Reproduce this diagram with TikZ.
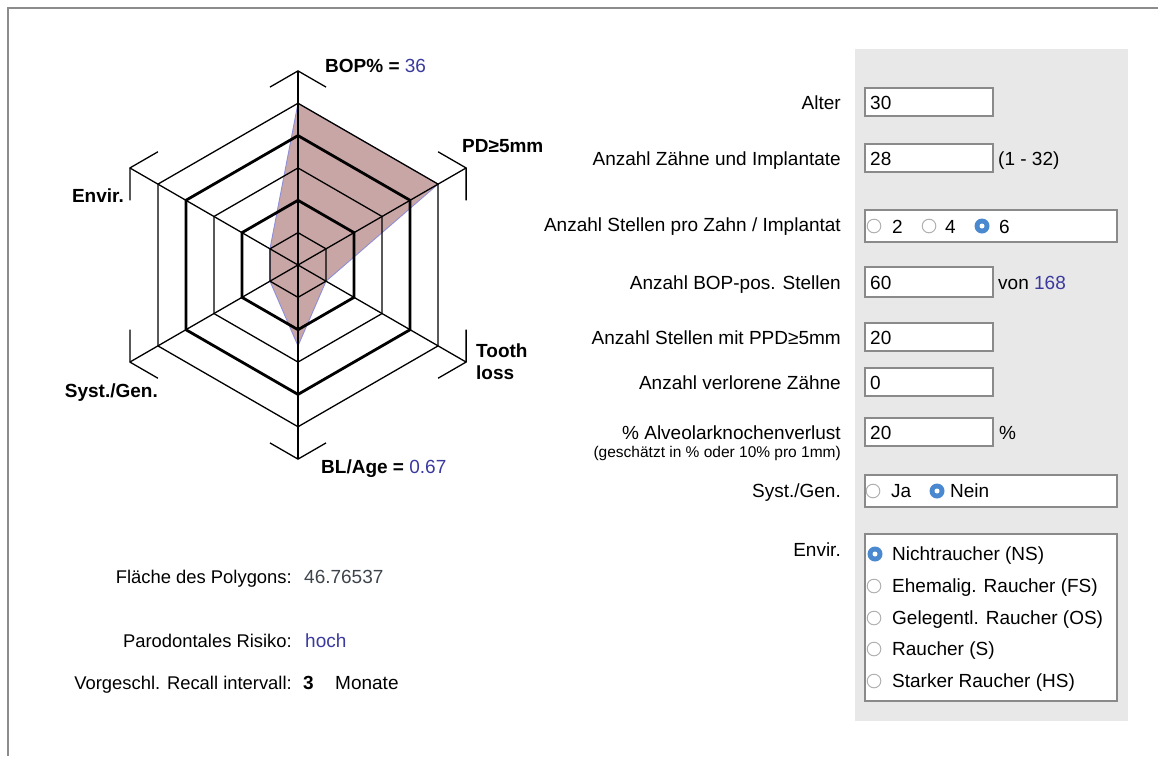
\documentclass[tikz,border=0pt]{standalone}
\usepackage{fontspec}
\setmainfont{Liberation Sans}
\usetikzlibrary{calc}

\definecolor{valblue}{HTML}{3A3A9E}
\definecolor{numgray}{HTML}{3E444C}
\definecolor{panelgray}{HTML}{E8E8E8}
\definecolor{fieldline}{HTML}{8A8A8A}
\definecolor{frameline}{HTML}{8C8C8C}
\definecolor{polyfill}{HTML}{C9A6A6}
\definecolor{polyline}{HTML}{8E8ED8}
\definecolor{radioblue}{HTML}{4A88D0}
\definecolor{radiooff}{HTML}{B0B0B0}

\begin{document}
\begin{tikzpicture}[x=1pt,y=-1pt,
  txt/.style={font=\fontsize{19}{22}\selectfont, inner sep=0pt},
  lbl/.style={txt, anchor=base east},
  val/.style={txt, anchor=base west},
  res/.style={font=\fontsize{18.4}{22}\selectfont, inner sep=0pt, anchor=base east},
  small/.style={font=\fontsize{15.5}{18}\selectfont, inner sep=0pt, anchor=base east},
  axlbl/.style={font=\fontsize{19}{22}\selectfont\bfseries, inner sep=0pt, anchor=base west},
  field/.style={draw=fieldline, line width=1.5pt, fill=white},
  gridthin/.style={black, line width=1.3pt, line join=miter},
  gridthick/.style={black, line width=2.8pt, line join=miter},
  radiooffstyle/.style={draw=radiooff, line width=1pt, fill=white},
]
\useasboundingbox (0,0) rectangle (1158,756);

% page frame
\draw[frameline, line width=2pt] (8,756) -- (8,8) -- (1158,8);

% form panel
\fill[panelgray] (855,49) rectangle (1128,721);

% ---------- radar chart ----------
\def\s{32.35}
\begin{scope}[shift={(298,265)}]
  \coordinate (ctr) at (0,0);
  % data polygon
  \fill[polyfill, draw=polyline, line width=0.9pt, line join=miter]
    (90:{5*\s pt}) -- (30:{5*\s pt}) -- (-30:{1*\s pt}) -- (-90:{2.5*\s pt})
    -- (-150:{1*\s pt}) -- (150:{1*\s pt}) -- cycle;
  % rings
  \foreach \k in {1,3,5}
    \draw[gridthin] (90:{\k*\s pt}) -- (30:{\k*\s pt}) -- (-30:{\k*\s pt})
      -- (-90:{\k*\s pt}) -- (-150:{\k*\s pt}) -- (150:{\k*\s pt}) -- cycle;
  \foreach \k in {2,4}
    \draw[gridthick] (90:{\k*\s pt}) -- (30:{\k*\s pt}) -- (-30:{\k*\s pt})
      -- (-90:{\k*\s pt}) -- (-150:{\k*\s pt}) -- (150:{\k*\s pt}) -- cycle;
  % axes with end marks
  \foreach \a in {90,30,-30,-90,-150,150} {
    \coordinate (tip\a) at (\a:{6*\s pt});
    \draw[gridthin] (ctr) -- (tip\a);
    \draw[gridthin]
      ($(tip\a)!{1/6}!(\a+60:{6*\s pt})$) -- (tip\a) -- ($(tip\a)!{1/6}!(\a-60:{6*\s pt})$);
  }
\end{scope}

% axis labels
\node[axlbl] (lbop) at (325,72) {BOP\% = \mdseries\textcolor{valblue}{36}};
\node[axlbl] (lpd) at (462,152) {PD≥5mm};
\node[axlbl, anchor=base east] (lenv) at (124,202) {Envir.};
\node[axlbl] (ltooth) at (476,357) {Tooth};
\node[axlbl] (lloss) at (476,379) {loss};
\node[axlbl, anchor=base east] (lsys) at (158,397) {Syst./Gen.};
\node[axlbl] (lbl) at (321,473) {BL/Age = \mdseries\textcolor{valblue}{0.67}};

% results
\node[res] (flaecheL) at (292,583) {Fläche des Polygons:};
\node[val, text=numgray] (flaecheV) at (304,583) {46.76537};
\node[res] (risikoL) at (292,647) {Parodontales Risiko:};
\node[val, text=valblue] (risikoV) at (305,647) {hoch};
\node[res] (recallL) at (292,689) {Vorgeschl. Recall intervall:};
\node[val, font=\fontsize{19}{22}\selectfont\bfseries] (recallV) at (303,689) {3};
\node[val] (recallU) at (335,689) {Monate};

% ---------- form ----------
% Alter
\node[lbl] (alterL) at (841,109) {Alter};
\draw[field] (865,88) rectangle (993,116);
\node[val] (alterV) at (870,109) {30};

% teeth and implants
\node[lbl] (zahnL) at (841,165) {Anzahl Zähne und Implantate};
\draw[field] (865,144) rectangle (993,172);
\node[val] (zahnV) at (870,165) {28};
\node[val] (zahnR) at (998,165) {(1 - 32)};

% sites per tooth
\node[lbl] (stelL) at (841,231) {Anzahl Stellen pro Zahn / Implantat};
\draw[field] (865,210) rectangle (1117,242);
\draw[radiooffstyle] (874,226) circle (6.8);
\node[val] (st2) at (892,233) {2};
\draw[radiooffstyle] (929,226) circle (6.8);
\node[val] (st4) at (945,233) {4};
\fill[radioblue] (982,226) circle (7.5);
\fill[white] (982,226) circle (2.5);
\node[val] (st6) at (999,233) {6};

% BOP-positive sites
\node[lbl] (bopL) at (841,289) {Anzahl BOP-pos. Stellen};
\draw[field] (865,267) rectangle (993,297);
\node[val] (bopV) at (870,289) {60};
\node[val] (bopR) at (998,289) {von \textcolor{valblue}{168}};

% PPD sites
\node[lbl] (ppdL) at (841,344) {Anzahl Stellen mit PPD≥5mm};
\draw[field] (865,323) rectangle (993,351);
\node[val] (ppdV) at (870,344) {20};

% lost teeth
\node[lbl] (lostL) at (841,389) {Anzahl verlorene Zähne};
\draw[field] (865,368) rectangle (993,396);
\node[val] (lostV) at (870,389) {0};

% bone loss
\node[lbl] (boneL) at (841,439) {\% Alveolarknochenverlust};
\node[small] (boneS) at (841,457) {(geschätzt in \% oder 10\% pro 1mm)};
\draw[field] (865,418) rectangle (993,446);
\node[val] (boneV) at (870,439) {20};
\node[val] (boneR) at (999,439) {\%};

% systemic / genetic
\node[lbl] (sysL) at (841,497) {Syst./Gen.};
\draw[field] (865,475) rectangle (1117,507);
\draw[radiooffstyle] (873,491) circle (6.8);
\node[val] (sysJa) at (891,497) {Ja};
\fill[radioblue] (937,491) circle (7.5);
\fill[white] (937,491) circle (2.5);
\node[val] (sysNein) at (950,497) {Nein};

% environment
\node[lbl] (envL) at (841,556) {Envir.};
\draw[field] (865,534) rectangle (1117,701);
\fill[radioblue] (875,554) circle (7.5);
\fill[white] (875,554) circle (2.5);
\node[val] (env1) at (892,560) {Nichtraucher (NS)};
\draw[radiooffstyle] (874,586) circle (6.8);
\node[val] (env2) at (892,592) {Ehemalig. Raucher (FS)};
\draw[radiooffstyle] (874,618) circle (6.8);
\node[val] (env3) at (892,624) {Gelegentl. Raucher (OS)};
\draw[radiooffstyle] (874,649) circle (6.8);
\node[val] (env4) at (892,655) {Raucher (S)};
\draw[radiooffstyle] (874,681) circle (6.8);
\node[val] (env5) at (892,687) {Starker Raucher (HS)};
\end{tikzpicture}
\end{document}
